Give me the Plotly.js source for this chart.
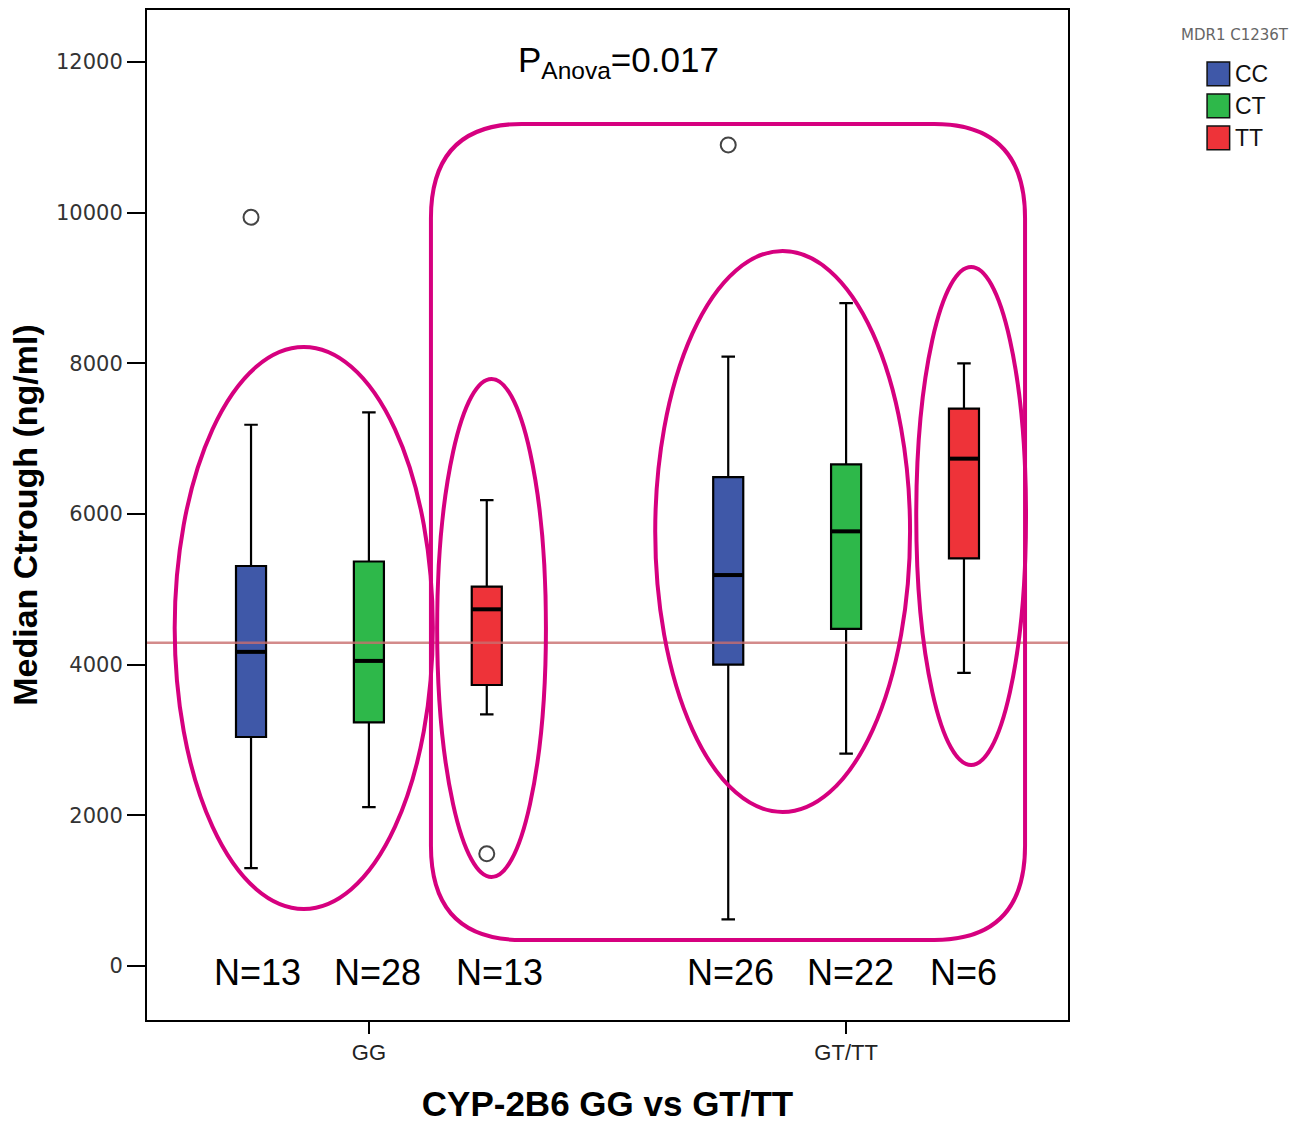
<!DOCTYPE html>
<html>
<head>
<meta charset="utf-8">
<script src="https://cdn.plot.ly/plotly-3.0.1.min.js"></script>
<style>html,body{margin:0;padding:0;background:#fff;}#chart{width:1307px;height:1123px;}</style>
</head>
<body>
<div id="chart"></div>
<script>
// ---- data ----
const groups = ['GG', 'GT/TT'];
const seriesNames = ['CC', 'CT', 'TT'];
const seriesColors = ['#3f58a8', '#2eb84a', '#ee3339'];
const lowerWhisker = { CC: [1300, 620],  CT: [2110, 2820], TT: [3340, 3890] };
const q1Values     = { CC: [3040, 4000], CT: [3235, 4475], TT: [3730, 5410] };
const medianValues = { CC: [4170, 5190], CT: [4050, 5770], TT: [4735, 6735] };
const q3Values     = { CC: [5310, 6490], CT: [5370, 6660], TT: [5035, 7400] };
const upperWhisker = { CC: [7185, 8090], CT: [7350, 8800], TT: [6185, 8000] };
const nCounts      = { CC: [13, 26], CT: [28, 22], TT: [13, 6] };
// outliers: group index, series, value
const outlierGroup  = [0, 1, 0];
const outlierSeries = ['CC', 'CC', 'TT'];
const outlierValues = [9940, 10900, 1490];
const referenceLine = 4290;
const pAnova = '0.017';
const legendTitle = 'MDR1 C1236T';

// ---- layout constants ----
const slot = 0.247;      // spacing between boxes within a group (axis units)
const boxW = 0.063;
const offsetOf = s => (seriesNames.indexOf(s) - 1) * slot;
const FONT = 'Liberation Sans, Arial, sans-serif';

const traces = [];
seriesNames.forEach((s, i) => {
  traces.push({
    type: 'box', name: s, showlegend: false,
    x: groups.map((g, gi) => gi + offsetOf(s)),
    q1: q1Values[s], median: medianValues[s], q3: q3Values[s],
    lowerfence: lowerWhisker[s], upperfence: upperWhisker[s],
    width: boxW, whiskerwidth: 0.45,
    fillcolor: seriesColors[i],
    line: { color: '#000', width: 2.2 },
    boxpoints: false, hoverinfo: 'y'
  });
  // thicker median bar on top of each box
  const mx = [], my = [];
  groups.forEach((g, gi) => {
    const c = gi + offsetOf(s);
    mx.push(c - boxW / 2, c + boxW / 2, null);
    my.push(medianValues[s][gi], medianValues[s][gi], null);
  });
  traces.push({ type: 'scatter', mode: 'lines', x: mx, y: my, showlegend: false,
                line: { color: '#000', width: 4 }, hoverinfo: 'skip' });
});
traces.push({
  type: 'scatter', mode: 'markers', showlegend: false,
  x: outlierGroup.map((g, k) => g + offsetOf(outlierSeries[k])),
  y: outlierValues,
  marker: { symbol: 'circle-open', size: 15, color: '#444', line: { width: 2, color: '#444' } },
  hoverinfo: 'y'
});

const magenta = 'rgb(214,0,127)';
function ellipse(x0, x1, y0, y1) {
  return { type: 'circle', xref: 'x', yref: 'y', x0, x1, y0, y1, layer: 'above',
           line: { color: magenta, width: 4 } };
}
function roundedRect(x0, x1, y0, y1, rx, ry) {
  const p = `M ${x0 + rx},${y1} L ${x1 - rx},${y1} Q ${x1},${y1} ${x1},${y1 - ry} ` +
            `L ${x1},${y0 + ry} Q ${x1},${y0} ${x1 - rx},${y0} ` +
            `L ${x0 + rx},${y0} Q ${x0},${y0} ${x0},${y0 + ry} ` +
            `L ${x0},${y1 - ry} Q ${x0},${y1} ${x0 + rx},${y1} Z`;
  return { type: 'path', xref: 'x', yref: 'y', path: p, layer: 'above',
           line: { color: magenta, width: 4 } };
}

const shapes = [
  { type: 'line', xref: 'paper', yref: 'y', x0: 0, x1: 1, y0: referenceLine, y1: referenceLine,
    layer: 'above', line: { color: 'rgba(200,110,110,0.8)', width: 2.5 } },
  ellipse(-0.407, 0.134, 757, 8217),
  ellipse(0.143, 0.371, 1181, 7792),
  ellipse(0.600, 1.134, 2044, 9492),
  ellipse(1.147, 1.377, 2668, 9279),
  roundedRect(0.130, 1.375, 345, 11178, 0.19, 1250)
];

const annotations = [];
const nShift = [[6, 2], [9, 4], [13, 0]];
seriesNames.forEach((s, si) => {
  groups.forEach((g, gi) => {
    annotations.push({
      xref: 'x', yref: 'y', x: gi + offsetOf(s), y: -80, xshift: nShift[si][gi],
      text: 'N=' + nCounts[s][gi], showarrow: false,
      font: { family: FONT, size: 36, color: '#000' }
    });
  });
});
annotations.push({
  xref: 'paper', yref: 'y', x: 0.512, y: 12000,
  text: 'P<sub>Anova</sub>=' + pAnova, showarrow: false,
  font: { family: FONT, size: 35, color: '#000' }
});

// custom legend (large filled squares as in the reference)
annotations.push({
  xref: 'paper', yref: 'paper', x: 1.1205, y: 0.9755, xanchor: 'left', yanchor: 'middle',
  text: legendTitle, showarrow: false,
  font: { family: 'DejaVu Sans, sans-serif', size: 15, color: '#666' }
});
const legX0 = 1.151, legX1 = 1.1755, legTop = 0.9485, legStep = 0.0317, legH = 0.0235;
seriesNames.forEach((s, i) => {
  const yT = legTop - i * legStep;
  shapes.push({ type: 'rect', xref: 'paper', yref: 'paper', x0: legX0, x1: legX1,
                y0: yT - legH, y1: yT, fillcolor: seriesColors[i],
                line: { color: '#111', width: 1.5 } });
  annotations.push({ xref: 'paper', yref: 'paper', x: legX1 + 0.004, y: yT - legH / 2,
                     xanchor: 'left', yanchor: 'middle', text: s, showarrow: false,
                     font: { family: FONT, size: 23, color: '#111' } });
});

const layout = {
  width: 1307, height: 1123,
  margin: { l: 147, r: 239, t: 10, b: 103 },
  paper_bgcolor: '#fff', plot_bgcolor: '#fff',
  showlegend: false,
  xaxis: {
    range: [-0.465, 1.465], tickvals: [0, 1], ticktext: groups,
    ticks: 'outside', ticklen: 12, tickwidth: 2, tickcolor: '#000',
    showline: true, mirror: true, linecolor: '#000', linewidth: 2,
    showgrid: false, zeroline: false,
    tickfont: { family: FONT, size: 22, color: '#222' },
    title: { text: '<b>CYP-2B6 GG vs GT/TT</b>', standoff: 28,
             font: { family: FONT, size: 35, color: '#000' } }
  },
  yaxis: {
    range: [-717, 12691], tickvals: [0, 2000, 4000, 6000, 8000, 10000, 12000],
    tickformat: 'd',
    ticks: 'outside', ticklen: 18, tickwidth: 2, tickcolor: '#000',
    showline: true, mirror: true, linecolor: '#000', linewidth: 2,
    showgrid: false, zeroline: false,
    tickfont: { family: 'DejaVu Sans, sans-serif', size: 21, color: '#333' },
    title: { text: '<b>Median Ctrough (ng/ml)</b>', standoff: 8,
             font: { family: FONT, size: 34, color: '#000' } }
  },
  shapes, annotations
};

Plotly.newPlot('chart', traces, layout, { displayModeBar: false, staticPlot: true });
</script>
</body>
</html>
